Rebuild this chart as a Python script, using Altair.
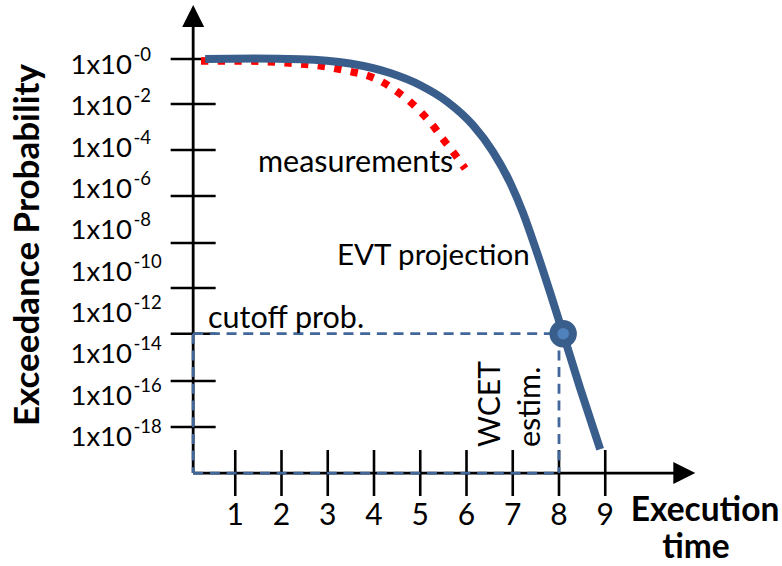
import altair as alt
import pandas as pd

# ---------------------------------------------------------------------------
# Values (time in abstract units, probability as log10 exponent)
# ---------------------------------------------------------------------------
time_ticks = [1, 2, 3, 4, 5, 6, 7, 8, 9]
time_tick_labels = ["1", "2", "3", "4", "5", "6", "7", "8", "9"]

prob_tick_marks = [0.29, -1.89, -4.11, -6.34, -8.61, -10.79, -13.0, -15.29, -17.51]
prob_label_exps = [0, -2, -4, -6, -8, -10, -12, -14, -16, -18]
prob_label_powers = ["-0", "-2", "-4", "-6", "-8", "-10", "-12", "-14", "-16", "-18"]

# fitted EVT tail
evt_time = [0.35, 1.43, 2.40, 3.48, 4.35, 5.00, 5.58, 6.14, 6.57, 6.94,
            7.22, 7.48, 7.81, 8.09, 8.45, 8.89]
evt_log_p = [0.29, 0.31, 0.28, 0.07, -0.39, -0.98, -1.77, -2.91, -4.19, -5.68,
             -7.14, -8.78, -11.02, -13.0, -15.59, -18.59]

# observed exceedance
meas_time = [0.26, 1.34, 2.05, 2.79, 3.50, 3.87, 4.20, 4.50, 4.78, 5.04,
             5.28, 5.49, 5.73, 5.97]
meas_log_p = [0.19, 0.19, 0.11, -0.03, -0.32, -0.52, -0.85, -1.29, -1.78, -2.34,
              -2.95, -3.58, -4.27, -5.01]

cutoff_log_p = -13.0
wcet_time = 8.0
wcet_hit_time = 8.09

origin_time = 0.09
origin_log_p = -19.74
time_axis_end = 10.71
prob_axis_end = 2.37

# ---------------------------------------------------------------------------
FONT = "Lato"
BLUE = "#3A5E8C"
DASH_BLUE = "#41679B"

X_SCALE = alt.Scale(domain=[-4.0865, 12.8216], nice=False, zero=False)
Y_SCALE = alt.Scale(domain=[-24.238, 3.1447], nice=False, zero=False)


def X(f="x"):
    return alt.X(f"{f}:Q", scale=X_SCALE, axis=None)


def Y(f="y"):
    return alt.Y(f"{f}:Q", scale=Y_SCALE, axis=None)


def seg_chart(segs, **mark):
    df = pd.DataFrame(segs, columns=["x", "y", "x2", "y2"])
    return alt.Chart(df).mark_rule(**mark).encode(
        x=X(), y=Y(), x2=alt.X2("x2:Q"), y2=alt.Y2("y2:Q"))


def text_chart(rows, **mark):
    df = pd.DataFrame(rows, columns=["x", "y", "label"])
    return alt.Chart(df).mark_text(font=FONT, color="black", **mark).encode(
        x=X(), y=Y(), text="label:N")


# axis lines
axes = seg_chart(
    [(origin_time, origin_log_p, time_axis_end, origin_log_p),
     (origin_time, origin_log_p, origin_time, prob_axis_end)],
    color="black", strokeWidth=2.8)

# cutoff / WCET box
cutoff_box = seg_chart(
    [(origin_time, cutoff_log_p, wcet_time, cutoff_log_p),
     (wcet_time, cutoff_log_p, wcet_time, origin_log_p),
     (origin_time, origin_log_p, wcet_time, origin_log_p),
     (origin_time, cutoff_log_p, origin_time, origin_log_p)],
    color=DASH_BLUE, strokeWidth=2.8, strokeDash=[10, 6.7])

ytick_df = pd.DataFrame({"x": origin_time, "y": prob_tick_marks})
yticks = alt.Chart(ytick_df).mark_tick(
    orient="horizontal", size=45, thickness=2.6, color="black", opacity=1
).encode(x=X(), y=Y())

xtick_df = pd.DataFrame({"x": time_ticks, "y": origin_log_p})
xticks = alt.Chart(xtick_df).mark_tick(
    orient="vertical", size=46, thickness=2.6, color="black", opacity=1
).encode(x=X(), y=Y())

meas_df = pd.DataFrame({"x": meas_time, "y": meas_log_p})
meas_line = alt.Chart(meas_df).mark_line(
    color="#FF0000", strokeWidth=7.5, strokeDash=[7.3, 9.4],
    strokeCap="butt", interpolate="monotone"
).encode(x=X(), y=Y())

evt_df = pd.DataFrame({"x": evt_time, "y": evt_log_p})
evt_line = alt.Chart(evt_df).mark_line(
    color=BLUE, strokeWidth=8, strokeCap="butt", interpolate="monotone"
).encode(x=X(), y=Y())

hit_df = pd.DataFrame({"x": [wcet_hit_time], "y": [cutoff_log_p]})
hit_outer = alt.Chart(hit_df).mark_point(
    shape="circle", filled=True, size=755, color=BLUE, opacity=1
).encode(x=X(), y=Y())
hit_inner = alt.Chart(hit_df).mark_point(
    shape="circle", filled=True, size=135, color="#4F81BD", opacity=1
).encode(x=X(), y=Y())

up_df = pd.DataFrame({"x": [origin_time], "y": [prob_axis_end]})
up_arrow = alt.Chart(up_df).mark_point(
    shape="M0,-1L1,1L-1,1Z", filled=True, size=484, color="black",
    opacity=1, strokeWidth=0
).encode(x=X(), y=Y())

right_df = pd.DataFrame({"x": [time_axis_end], "y": [origin_log_p]})
right_arrow = alt.Chart(right_df).mark_point(
    shape="M1,0L-1,-1L-1,1Z", filled=True, size=484, color="black",
    opacity=1, strokeWidth=0
).encode(x=X(), y=Y())

# tick labels
ylab_main = text_chart(
    [(-1.232, e, "1x10") for e in prob_label_exps],
    fontSize=27.5, align="right", baseline="alphabetic", dy=9)
ylab_pow = text_chart(
    [(-1.20, e, p) for e, p in zip(prob_label_exps, prob_label_powers)],
    fontSize=18.5, align="left", baseline="alphabetic", dy=-4)
xlab = text_chart(
    [(t, origin_log_p, s) for t, s in zip(time_ticks, time_tick_labels)],
    fontSize=30, align="center", baseline="alphabetic", dy=52)

# titles
ytitle = text_chart([(-3.481, -8.708, "Exceedance Probability")],
                    fontSize=35, fontWeight="bold", angle=270,
                    align="center", baseline="middle")
xtitle1 = text_chart([(11.157, -22.06, "Execution")],
                     fontSize=33.5, fontWeight="bold", align="center",
                     baseline="alphabetic")
xtitle2 = text_chart([(10.962, -23.85, "time")],
                     fontSize=33.5, fontWeight="bold", align="center",
                     baseline="alphabetic")

# annotations
notes = text_chart(
    [(1.492, -5.177, "measurements"),
     (0.411, -12.72, "cutoff prob.")],
    fontSize=30.5, align="left", baseline="alphabetic")
evt_note = text_chart([(3.20, -9.676, "EVT projection")],
                      fontSize=29.5, align="left", baseline="alphabetic")
wcet_note = text_chart([(6.724, -18.48, "WCET")],
                       fontSize=30, align="left", baseline="alphabetic",
                       angle=270)
estim_note = text_chart([(7.589, -18.48, "estim.")],
                        fontSize=30.5, align="left", baseline="alphabetic",
                        angle=270)

chart = alt.layer(
    axes, yticks, xticks, cutoff_box, meas_line, evt_line,
    hit_outer, hit_inner, up_arrow, right_arrow,
    ylab_main, ylab_pow, xlab, ytitle, xtitle1, xtitle2,
    notes, evt_note, wcet_note, estim_note
).properties(
    width=782, height=566, padding=0, autosize="none", background="white"
).configure_view(stroke=None)

chart.save("out.html", embed_options={"renderer": "svg", "actions": False})
